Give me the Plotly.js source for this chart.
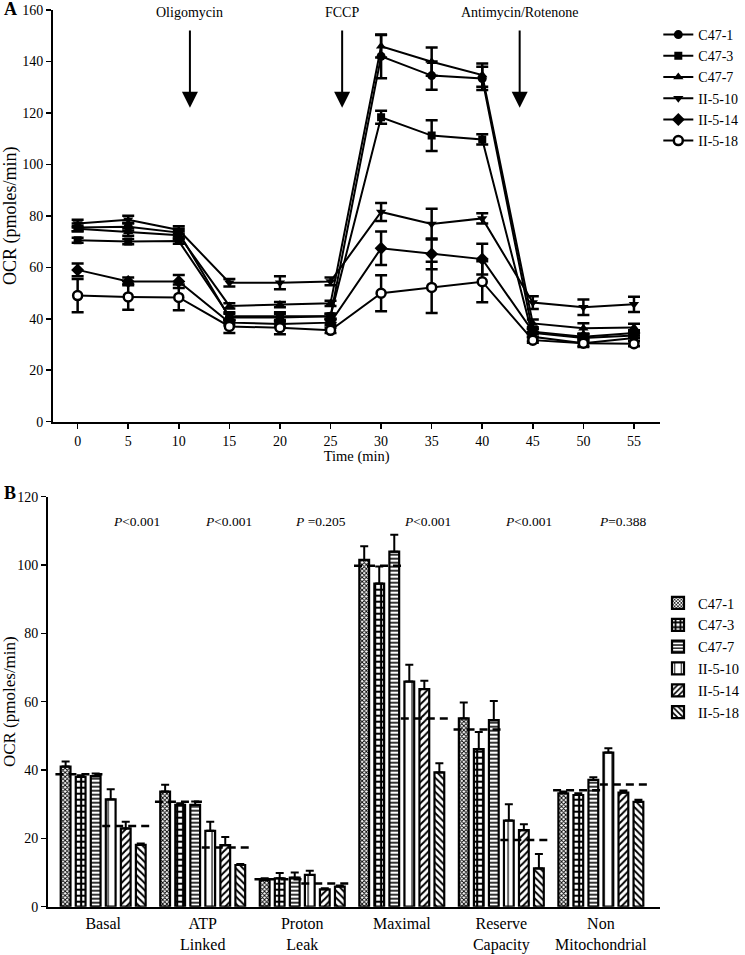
<!DOCTYPE html>
<html>
<head>
<meta charset="utf-8">
<script src="https://cdn.plot.ly/plotly-3.0.1.min.js"></script>
<style>
html,body{margin:0;padding:0;background:#fff;}
#chart{width:745px;height:955px;}
</style>
</head>
<body>
<div id="chart"></div>
<script>
// ---------- Panel A data ----------
var times = [0, 5, 10, 15, 20, 25, 30, 35, 40, 45, 50, 55];
var seriesNames = ["C47-1", "C47-3", "C47-7", "II-5-10", "II-5-14", "II-5-18"];
var ocr_C47_1  = [75.5, 75.8, 73.5, 40.5, 40.5, 41.0, 142.0, 134.5, 133.4, 34.5, 32.5, 33.5];
var err_C47_1  = [1.5, 1.5, 1.5, 1.5, 1.5, 1.0, 8.5, 5.5, 4.5, 1.5, 1.5, 1.0];
var ocr_C47_3  = [70.5, 70.0, 70.2, 41.0, 41.0, 41.0, 118.3, 111.2, 109.7, 33.0, 30.5, 32.5];
var err_C47_3  = [1.0, 1.0, 1.0, 1.5, 1.5, 1.0, 2.5, 6.0, 2.0, 1.5, 1.5, 1.0];
var ocr_C47_7  = [75.0, 73.8, 72.5, 45.0, 45.5, 46.0, 145.9, 139.9, 134.7, 38.2, 36.3, 36.6];
var err_C47_7  = [1.0, 1.5, 1.5, 1.0, 1.0, 1.0, 4.4, 5.5, 4.5, 1.5, 2.0, 1.5];
var ocr_II_5_10 = [77.0, 78.5, 74.5, 54.0, 54.0, 54.5, 81.5, 76.8, 79.0, 46.3, 44.5, 45.6];
var err_II_5_10 = [1.5, 1.5, 1.5, 1.5, 2.5, 1.5, 3.5, 6.0, 2.0, 2.5, 3.0, 3.0];
var ocr_II_5_14 = [59.0, 54.5, 54.5, 38.5, 38.0, 38.5, 67.4, 65.2, 63.2, 35.0, 33.0, 34.5];
var err_II_5_14 = [2.5, 1.5, 2.5, 1.0, 1.0, 1.0, 6.5, 6.0, 6.0, 1.0, 1.0, 1.0];
var ocr_II_5_18 = [49.0, 48.5, 48.3, 37.0, 36.5, 35.5, 49.9, 52.2, 54.4, 31.7, 30.5, 30.3];
var err_II_5_18 = [6.5, 5.0, 5.0, 2.5, 2.5, 1.0, 7.0, 10.0, 8.0, 1.0, 1.0, 1.0];
var injections = ["Oligomycin", "FCCP", "Antimycin/Rotenone"];
var injectionTimes = [11.1, 26.15, 43.7];

// ---------- Panel B data ----------
var categories = ["Basal", "ATP<br>Linked", "Proton<br>Leak", "Maximal", "Reserve<br>Capacity", "Non<br>Mitochondrial"];
var bar_C47_1   = [41.0, 33.7, 7.8, 101.5, 55.1, 33.2];
var berr_C47_1  = [1.5, 2.0, 0.5, 4.0, 4.7, 0.5];
var bar_C47_3   = [38.0, 29.8, 8.3, 94.6, 46.1, 32.7];
var berr_C47_3  = [0.5, 0.5, 1.6, 5.0, 5.0, 0.5];
var bar_C47_7   = [38.2, 29.8, 8.5, 103.9, 54.6, 37.1];
var berr_C47_7  = [0.8, 1.0, 1.5, 5.0, 5.6, 0.8];
var bar_II_5_10 = [31.4, 22.2, 9.3, 65.9, 25.2, 45.1];
var berr_II_5_10 = [3.0, 2.7, 1.2, 4.9, 4.8, 1.3];
var bar_II_5_14 = [22.9, 18.0, 5.1, 63.7, 22.4, 33.4];
var berr_II_5_14 = [2.0, 2.4, 0.3, 2.4, 1.7, 0.6];
var bar_II_5_18 = [18.1, 12.2, 5.9, 39.3, 11.2, 30.7];
var berr_II_5_18 = [0.4, 0.3, 0.3, 2.7, 4.2, 0.6];
var controlMean = [38.8, 30.7, 8.0, 99.8, 51.9, 34.1];
var mutantMean  = [23.6, 17.3, 6.8, 55.1, 19.5, 35.8];
var pLabels = ["<i>P</i>&lt;0.001", "<i>P</i>&lt;0.001", "<i>P</i> =0.205", "<i>P</i>&lt;0.001", "<i>P</i>&lt;0.001", "<i>P</i>=0.388"];
var pOffsets = [0.33, 0.26, 0.18, 0.26, 0.27, 0.22];

// ---------- build ----------
var FONT = "Liberation Serif, Times New Roman, serif";
var lineSeries = [ocr_C47_1, ocr_C47_3, ocr_C47_7, ocr_II_5_10, ocr_II_5_14, ocr_II_5_18];
var lineErr = [err_C47_1, err_C47_3, err_C47_7, err_II_5_10, err_II_5_14, err_II_5_18];
var symbols = ["circle", "square", "triangle-up", "triangle-down", "diamond", "circle"];
var fills = ["black", "black", "black", "black", "black", "white"];
var msizes = [9, 8, 9, 9, 10, 9];

var traces = [];
for (var s = 0; s < 6; s++) {
  traces.push({
    type: "scatter", mode: "lines+markers",
    x: times, y: lineSeries[s], name: seriesNames[s],
    xaxis: "x", yaxis: "y", legend: "legend",
    line: {color: "black", width: 2},
    marker: {symbol: symbols[s], size: msizes[s], color: fills[s],
             line: {color: "black", width: fills[s] === "white" ? 2.5 : 0}},
    error_y: {type: "data", array: lineErr[s], visible: true, color: "black", thickness: 2.5, width: 6}
  });
}

var barSeries = [bar_C47_1, bar_C47_3, bar_C47_7, bar_II_5_10, bar_II_5_14, bar_II_5_18];
var barErr = [berr_C47_1, berr_C47_3, berr_C47_7, berr_II_5_10, berr_II_5_14, berr_II_5_18];
var patterns = [
  {shape: "x", size: 3, solidity: 0.5, fgcolor: "black", bgcolor: "white"},
  {shape: "+", size: 6, solidity: 0.6, fgcolor: "black", bgcolor: "white"},
  {shape: "-", size: 4, solidity: 0.4, fgcolor: "black", bgcolor: "white"},
  {shape: "|", size: 8, solidity: 0.15, fgcolor: "black", bgcolor: "white"},
  {shape: "/", size: 5, solidity: 0.4, fgcolor: "black", bgcolor: "white"},
  {shape: "\\", size: 5, solidity: 0.4, fgcolor: "black", bgcolor: "white"}
];
var catIdx = categories.map(function (c, i) { return i; });
for (var b = 0; b < 6; b++) {
  traces.push({
    type: "bar", x: catIdx, y: barSeries[b], name: seriesNames[b],
    xaxis: "x2", yaxis: "y2", legend: "legend2",
    marker: {color: "white", pattern: patterns[b], line: {color: "black", width: 2.2}},
    error_y: {type: "data", symmetric: false, array: barErr[b], arrayminus: barErr[b].map(function(){return 0;}),
              visible: true, color: "black", thickness: 2, width: 4}
  });
}
// dashed group-mean lines
var cx = [], cy = [], mx = [], my = [];
for (var i = 0; i < categories.length; i++) {
  cx.push(i - 0.48, i + 0.02, null); cy.push(controlMean[i], controlMean[i], null);
  mx.push(i - 0.01, i + 0.5, null); my.push(mutantMean[i], mutantMean[i], null);
}
traces.push({type: "scatter", mode: "lines", x: cx, y: cy, xaxis: "x2", yaxis: "y2", showlegend: false,
             line: {color: "black", width: 2.5, dash: "8px,5px"}, hoverinfo: "skip"});
traces.push({type: "scatter", mode: "lines", x: mx, y: my, xaxis: "x2", yaxis: "y2", showlegend: false,
             line: {color: "black", width: 2.5, dash: "8px,5px"}, hoverinfo: "skip"});

var annotations = [];
for (var k = 0; k < injections.length; k++) {
  annotations.push({xref: "x", yref: "y", x: injectionTimes[k], y: 159, text: injections[k], showarrow: false,
                    font: {family: FONT, size: 14, color: "black"}, yanchor: "middle"});
  annotations.push({xref: "x", yref: "y", axref: "x", ayref: "y", x: injectionTimes[k], y: 122,
                    ax: injectionTimes[k], ay: 152.6, text: "", showarrow: true,
                    arrowhead: 2, arrowsize: 1.6, arrowwidth: 2, arrowcolor: "black"});
}
for (var p = 0; p < pLabels.length; p++) {
  annotations.push({xref: "x2", yref: "y2", x: p + pOffsets[p], y: 112.7, text: pLabels[p], showarrow: false,
                    font: {family: FONT, size: 13.5, color: "black"}});
}
annotations.push({xref: "paper", yref: "paper", x: 2/745, y: 1 - 9/955, xanchor: "left", yanchor: "middle",
                  text: "<b>A</b>", showarrow: false, font: {family: FONT, size: 18, color: "black"}});
annotations.push({xref: "paper", yref: "paper", x: 2/745, y: 1 - 493/955, xanchor: "left", yanchor: "middle",
                  text: "<b>B</b>", showarrow: false, font: {family: FONT, size: 18, color: "black"}});

var axisCommon = {showgrid: false, zeroline: false, showline: true, linecolor: "black", linewidth: 2,
                  tickfont: {family: FONT, size: 14, color: "black"}, ticks: "outside", ticklen: 5,
                  tickwidth: 1.5, tickcolor: "black"};
function merge(a, b) { var o = {}; for (var k in a) o[k] = a[k]; for (var k2 in b) o[k2] = b[k2]; return o; }

var layout = {
  width: 745, height: 955, paper_bgcolor: "white", plot_bgcolor: "white",
  margin: {l: 0, r: 0, t: 0, b: 0},
  font: {family: FONT, color: "black"},
  barmode: "group", bargap: 0.094, bargroupgap: 0.35,
  xaxis: merge(axisCommon, {domain: [54/745, 672/745], anchor: "y", range: [-2.43, 57.6],
    tickvals: times, title: {text: "Time (min)", font: {family: FONT, size: 14.5}, standoff: 0}}),
  yaxis: merge(axisCommon, {domain: [1 - 421.7/955, 1 - 10/955], anchor: "x", range: [0, 160], dtick: 20,
    title: {text: "OCR (pmoles/min)", font: {family: FONT, size: 18}, standoff: 4}}),
  xaxis2: merge(axisCommon, {domain: [49/745, 672/745], anchor: "y2", range: [-0.553, 5.597],
    tickvals: catIdx, ticktext: categories, ticklen: 1, tickcolor: "rgba(0,0,0,0)",
    tickfont: {family: FONT, size: 16, color: "black"}}),
  yaxis2: merge(axisCommon, {domain: [1 - 906.7/955, 1 - 496.7/955], anchor: "x2", range: [0, 120], dtick: 20,
    tickfont: {family: FONT, size: 14, color: "black"},
    title: {text: "OCR (pmoles/min)", font: {family: FONT, size: 17}, standoff: 6}}),
  legend: {x: 670/745, y: 1 - 19/955, xanchor: "left", yanchor: "top", bgcolor: "rgba(0,0,0,0)",
    font: {family: FONT, size: 14, color: "black"}, itemwidth: 30, tracegroupgap: 0},
  legend2: {x: 670/745, y: 1 - 587/955, xanchor: "left", yanchor: "top", bgcolor: "rgba(0,0,0,0)",
    font: {family: FONT, size: 14.5, color: "black"}, itemwidth: 30},
  annotations: annotations,
  showlegend: true
};

Plotly.newPlot("chart", traces, layout, {staticPlot: true, displayModeBar: false});
</script>
</body>
</html>
